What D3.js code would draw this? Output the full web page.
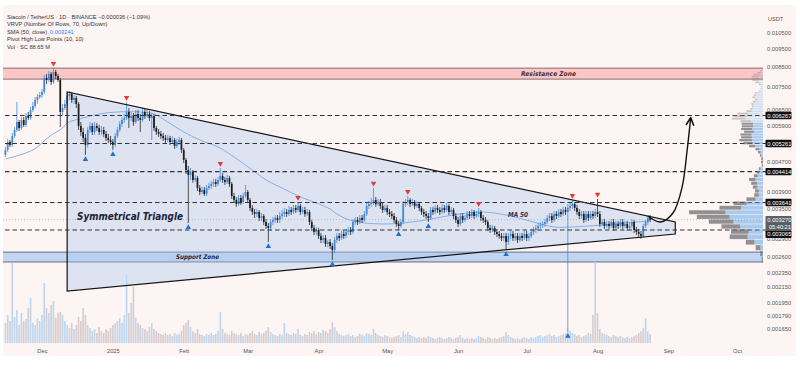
<!DOCTYPE html>
<html><head><meta charset="utf-8">
<script src="https://cdn.jsdelivr.net/npm/d3@7"></script>
<style>
html,body{margin:0;padding:0;background:#fff;}
svg{display:block;font-family:"Liberation Sans","Open Sans",sans-serif;}
</style></head><body>
<svg id="c" width="800" height="381"></svg>
<script>
// ---------- DATA (prices in 1e-6 USDT, volume in millions SC) ----------
const startDate = "2024-11-15";
const firstOpen = 4899;
const close = [
5055,5314,5215,5517,5728,6021,5800,6097,5910,6252,
6174,6490,6654,6909,7040,7128,7264,7927,7829,8128,
7732,8230,8027,7829,6410,6572,6738,7084,7174,6909,
6996,6738,5873,5657,5449,5215,5728,5873,5657,5873,
5800,5657,5728,5587,5449,5381,5314,5215,5517,5728,
5947,6097,6174,6410,6174,6252,6021,6330,6174,6097,
6410,6252,6330,6174,6252,5800,5657,5587,5517,5449,
5381,5449,5314,5381,5183,5314,5381,5055,4749,4461,
4324,4406,4191,4244,3987,3888,3937,3840,3987,4037,
4088,4139,4088,4191,4297,4191,4139,4244,4088,3792,
3698,3607,3745,3652,3792,3888,3698,3518,3431,3388,
3431,3305,3346,3223,3144,3105,3223,3264,3305,3264,
3346,3388,3431,3388,3474,3431,3518,3474,3562,3431,
3474,3388,3431,3223,3105,3028,3066,2953,2880,2916,
2809,2844,2774,2705,2880,2953,2916,2990,2953,3028,
3066,3028,3223,3264,3223,3305,3264,3388,3562,3607,
3652,3698,3607,3652,3562,3474,3518,3431,3388,3346,
3264,3183,3144,3223,3607,3652,3698,3607,3652,3562,
3607,3518,3431,3388,3346,3305,3474,3431,3518,3474,
3431,3518,3474,3562,3431,3474,3346,3264,3183,3346,
3264,3305,3388,3346,3431,3346,3388,3431,3305,3264,
3223,3105,3066,3105,3028,2990,2953,2916,2953,2844,
2953,2990,2916,2953,2880,2953,2916,2990,2916,2953,
3028,3066,3105,3144,3163,3183,3223,3305,3346,3264,
3388,3346,3431,3388,3474,3431,3518,3562,3607,3518,
3431,3346,3388,3264,3388,3305,3388,3346,3431,3388,
3183,3223,3144,3183,3144,3223,3105,3183,3144,3223,
3144,3183,3105,3144,3223,3066,3028,2990,2953,3144,
3223,3306,3270];
const high = [
5151,5415,5381,5622,5836,6823,6097,6213,6213,6370,
6410,6613,6823,7040,7174,7264,7401,8077,8128,8282,
8230,8439,8334,8128,7927,6738,6909,7219,7309,7264,
7128,7084,6823,6021,5800,5587,5836,6021,5984,6021,
5984,5910,5873,5836,5692,5587,5517,5415,5622,5836,
6059,6213,6330,6823,6572,6410,6370,6490,6490,6330,
6572,6531,6490,6450,6370,6330,5873,5764,5692,5622,
5552,5552,5517,5517,5449,5415,5483,5449,5119,4808,
4574,4517,4461,4324,4297,4062,4012,4012,4062,4114,
4165,4218,4218,4271,4517,4379,4271,4324,4297,4139,
3864,3769,3816,3816,3864,4062,3937,3745,3584,3496,
3496,3474,3409,3388,3284,3203,3284,3325,3367,3367,
3431,3474,3518,3496,3562,3540,3584,3584,3652,3607,
3540,3540,3496,3474,3264,3163,3124,3105,3009,2971,
2971,2880,2898,2826,2934,3009,3009,3047,3047,3085,
3124,3124,3284,3325,3325,3367,3367,3452,3630,3675,
3745,3987,3769,3722,3722,3630,3584,3584,3496,3452,
3409,3325,3243,3284,3675,3722,3792,3745,3722,3698,
3675,3652,3562,3496,3452,3409,3540,3540,3584,3584,
3540,3607,3584,3630,3607,3540,3518,3409,3325,3409,
3409,3367,3452,3452,3496,3474,3452,3518,3474,3367,
3325,3264,3163,3163,3144,3085,3047,3009,3009,3009,
3009,3047,3047,3009,3009,3009,3009,3047,3047,3009,
3085,3124,3163,3203,3223,3243,3284,3367,3409,3409,
3452,3452,3496,3496,3540,3540,3607,3630,3698,3652,
3584,3496,3452,3452,3452,3452,3452,3452,3496,3722,
3452,3284,3284,3243,3243,3284,3284,3243,3243,3284,
3284,3243,3243,3203,3284,3264,3124,3085,3047,3183,
3264,3346,3367];
const low = [
4838,4992,5151,5151,5449,5657,5692,5728,5836,5836,
6097,6097,6410,6572,6738,6952,6996,7174,7636,7732,
7588,7636,7878,7732,5836,6252,6490,6654,6909,6781,
6738,6572,5728,5517,5314,4899,5119,5622,5552,5552,
5692,5552,5552,5483,5348,5281,5215,5055,5151,5449,
5657,5836,5984,6097,5800,6059,5873,5947,6059,5657,
6021,6135,6174,6059,5381,5692,5552,5483,5415,5348,
5281,5314,5215,5248,5087,5119,5215,4961,4661,4351,
3203,4191,4114,4139,3913,3816,3840,3792,3792,3937,
3962,4012,4012,4037,4139,4114,4062,4088,4012,3722,
3630,3540,3562,3584,3607,3745,3630,3452,3367,3305,
3325,3243,3243,3163,3085,2844,3047,3163,3203,3203,
3203,3284,3325,3325,3346,3367,3388,3409,3431,3367,
3388,3325,3346,3163,3047,2971,2971,2898,2826,2826,
2757,2757,2722,2541,2655,2826,2862,2880,2898,2916,
2971,2971,2990,3163,3163,3183,3203,3223,3346,3496,
3540,3584,3540,3562,3496,3409,3431,3367,3325,3284,
3203,3124,3066,3105,3183,3540,3584,3540,3562,3496,
3518,3452,3367,3325,3284,3223,3264,3367,3388,3409,
3367,3388,3409,3431,3367,3388,3284,3203,3124,3144,
3203,3223,3264,3284,3305,3284,3305,3325,3243,3203,
3163,3047,3009,3028,2971,2934,2898,2862,2862,2705,
2791,2898,2862,2862,2826,2844,2862,2880,2862,2862,
2916,2971,3009,3047,3085,3105,3124,3183,3243,3203,
3223,3284,3305,3325,3346,3367,1625,3452,3496,3452,
3367,3284,3284,3203,3223,3243,3264,3284,3305,3325,
3124,3144,3085,3105,3085,3105,3047,3066,3085,3105,
3085,3105,3047,3066,3105,3009,2971,2934,2898,2916,
3105,3163,3223];
const volume = [
200,280,220,800,260,330,180,300,220,240,
350,450,200,180,250,220,280,600,350,300,
380,420,250,300,310,280,220,180,150,200,
140,180,260,220,350,280,180,150,120,140,
100,160,120,100,140,120,150,180,200,220,
250,200,280,680,300,400,560,250,200,180,
150,140,120,160,200,140,120,100,90,80,
100,80,90,70,100,80,90,120,180,200,
230,160,120,100,140,90,80,70,90,80,
100,80,90,120,310,140,100,90,80,120,
100,90,80,100,70,90,80,100,120,90,
80,110,90,100,120,160,110,90,80,70,
90,80,200,100,90,80,100,90,140,80,
70,90,80,110,100,120,90,110,100,130,
120,100,140,210,160,120,90,80,70,80,
90,70,80,60,70,90,80,70,100,90,
80,140,100,80,70,60,80,70,60,50,
60,70,80,60,120,90,110,80,70,60,
50,60,50,60,50,70,60,50,40,50,
60,50,40,50,60,50,40,50,60,80,
50,40,50,40,50,40,50,70,60,50,
40,60,50,40,50,40,50,60,70,110,
80,60,50,40,50,40,50,60,50,40,
60,50,60,70,80,60,70,80,90,70,
80,60,70,80,90,100,140,120,100,90,
70,80,60,70,80,100,90,280,810,300,
140,100,90,80,70,60,80,70,60,70,
60,50,60,50,60,70,80,100,120,150,
250,120,88.65];
const pivotHighBars = [21,53,94,128,161,176,207,248,259];
const pivotLowBars  = [35,47,80,115,143,172,185,219,246];
const smaBars = [0,12,19,25,27,34,41,49,59,65,71,78,85,93,100,108,114,121,129,136,142,145,152,167,181,196,208,219,231,240,248,261,276,282];
const smaValues = [4778,5055,5483,5800,5984,6174,6330,6410,6410,6330,6021,5657,5381,5151,4838,4461,4191,3987,3769,3630,3496,3388,3243,3183,3243,3367,3431,3367,3223,3124,3124,3163,3223,3241];
const levelPrices = [6267,5261,4414,3641,3065];
const resistanceZone = [7870,8430];
const supportZone = [2510,2670];
const currentPrice = 3270;
const triangleBars = [27,27,293,293];
const trianglePrices = [7264,2094,2990,3223];
const arrowBars = [281,286.5,292,296,298.2,299.7];
const arrowPrices = [3346,3223,3409,4012,5055,6150];
const priceTicks = [0.0105,0.0095,0.0085,0.0075,0.0065,0.0059,0.0047,0.0039,0.0035,0.0029,0.0026,0.00235,0.00215,0.00195,0.00179,0.00165];
const monthTicks = ["2024-12-01","2025-01-01","2025-02-01","2025-03-01","2025-04-01","2025-05-01","2025-06-01","2025-07-01","2025-08-01","2025-09-01","2025-10-01"];
const legendLines = ["Siacoin / TetherUS · 1D · BINANCE  −0.000036 (−1.09%)","VRVP (Number Of Rows, 70, Up/Down)","SMA (50, close)","Pivot High Low Points (10, 10)","Vol · SC  88.65 M"];
const smaLegendValue = "0.003241";
const vrvpRows = 70;

// ---------- SETUP ----------
const P = 1e-6, DAY = 864e5;
const t0 = new Date(startDate + "T00:00:00Z").getTime();
const dayDate = d => new Date(t0 + d * DAY);
const open = close.map((c, i) => i ? close[i - 1] : firstOpen);
const bars = close.map((c, i) => ({i, d: dayDate(i), o: open[i]*P, c: c*P, h: high[i]*P, l: low[i]*P, v: volume[i], up: c >= open[i]}));

const svg = d3.select("#c");
const plotL = 3, plotR = 763, plotT = 5, plotB = 356;
const x = d3.scaleUtc().domain([new Date("2024-12-01T00:00:00Z"), new Date("2025-10-01T00:00:00Z")]).range([42, 737]);
const y = d3.scaleLog().domain([0.0125, 0.0014]).range([5.1, 355.4]);
const yv = d3.scaleLinear().domain([0, 1000]).range([343, 243]);
const X = d => x(dayDate(d));

svg.append("rect").attr("x", plotL).attr("y", plotT).attr("width", 793).attr("height", plotB - plotT).attr("rx", 3).attr("fill", "#fdf5f3");
svg.append("defs").append("clipPath").attr("id", "pc").append("rect").attr("x", plotL).attr("y", plotT).attr("width", plotR - plotL).attr("height", 343 - plotT);
svg.select("defs").append("marker").attr("id", "ah").attr("viewBox", "0 0 10 10").attr("refX", 8).attr("refY", 5)
  .attr("markerWidth", 7).attr("markerHeight", 7).attr("orient", "auto")
  .append("path").attr("d", "M1,1 L9,5 L1,9").attr("fill", "none").attr("stroke", "#111").attr("stroke-width", 1.6);

const g = svg.append("g").attr("clip-path", "url(#pc)");

// zones
function zone(z, fill, stroke) {
  g.append("rect").attr("x", plotL).attr("width", plotR - plotL).attr("y", y(z[1]*P)).attr("height", y(z[0]*P) - y(z[1]*P)).attr("fill", fill);
  [z[0], z[1]].forEach(p => g.append("line").attr("x1", plotL).attr("x2", plotR).attr("y1", y(p*P)).attr("y2", y(p*P)).attr("stroke", stroke).attr("stroke-width", 0.9));
}
zone(resistanceZone, "#fbc6c6", "#7d6262");
zone(supportZone, "#c2d6f1", "#55607a");

// triangle fill
const triPts = triangleBars.map((b, k) => [X(b), y(trianglePrices[k]*P)]);
g.append("path").attr("d", d3.line()(triPts) + "Z").attr("fill", "rgba(172,196,240,0.38)").attr("stroke", "none");

// volume bars
g.selectAll(".vol").data(bars).join("rect")
  .attr("x", d => x(d.d) - 0.8).attr("width", 1.6)
  .attr("y", d => yv(d.v)).attr("height", d => yv(0) - yv(d.v))
  .attr("fill", d => d.up ? "#bcd5f1" : "#d9caca");

// current price dotted line
g.append("line").attr("x1", plotL).attr("x2", plotR).attr("y1", y(currentPrice*P)).attr("y2", y(currentPrice*P))
  .attr("stroke", "#b0b0b0").attr("stroke-width", 0.8).attr("stroke-dasharray", "1,2");

// dashed levels
levelPrices.forEach(p => svg.append("line").attr("x1", plotL + 2).attr("x2", 766).attr("y1", y(p*P)).attr("y2", y(p*P))
  .attr("stroke", "#333").attr("stroke-width", 1.1).attr("stroke-dasharray", "4.5,3"));

// VRVP
const pMin = d3.min(bars, d => d.l), pMax = d3.max(bars, d => d.h), step = (pMax - pMin) / vrvpRows;
const upV = new Array(vrvpRows).fill(0), dnV = new Array(vrvpRows).fill(0);
bars.forEach(b => {
  const span = Math.max(b.h - b.l, 1e-12);
  for (let r = 0; r < vrvpRows; r++) {
    const a = pMin + r * step, e = a + step, ov = Math.min(e, b.h) - Math.max(a, b.l);
    if (ov > 0) { const s = b.v * ov / span; if (b.up) upV[r] += s; else dnV[r] += s; }
  }
});
const tot = upV.map((u, r) => u + dnV[r]);
const sumV = d3.sum(tot); let poc = d3.maxIndex(tot), vaLo = poc, vaHi = poc, acc = tot[poc];
while (acc < 0.7 * sumV) {
  const ab = vaHi + 1 < vrvpRows ? tot[vaHi + 1] : -1, be = vaLo - 1 >= 0 ? tot[vaLo - 1] : -1;
  if (ab >= be) { vaHi++; acc += ab; } else { vaLo--; acc += be; }
}
const wv = d3.scaleLinear().domain([0, d3.max(tot)]).range([0, 74]);
const vp = svg.append("g");
d3.range(vrvpRows).forEach(r => {
  const yt = y((pMin + (r + 1) * step)), yb = y(pMin + r * step);
  const hh = Math.max(yb - yt - 0.6, 0.5), inVA = r >= vaLo && r <= vaHi;
  const wu = wv(upV[r]), wd = wv(dnV[r]);
  vp.append("rect").attr("x", plotR - wu).attr("width", wu).attr("y", yt + 0.3).attr("height", hh)
    .attr("fill", inVA ? "rgba(66,150,235,0.45)" : "rgba(66,150,235,0.22)");
  vp.append("rect").attr("x", plotR - wu - wd).attr("width", wd).attr("y", yt + 0.3).attr("height", hh)
    .attr("fill", inVA ? "rgba(105,105,110,0.72)" : "rgba(140,130,130,0.45)");
});

// SMA
g.append("path").datum(smaBars.map((b, k) => [X(b), y(smaValues[k]*P)]))
  .attr("d", d3.line().curve(d3.curveCatmullRom)).attr("fill", "none").attr("stroke", "#86b1e2").attr("stroke-width", 1);

// candles
const cg = g.append("g");
cg.selectAll(".w").data(bars).join("line")
  .attr("x1", d => x(d.d)).attr("x2", d => x(d.d)).attr("y1", d => y(d.h)).attr("y2", d => y(d.l))
  .attr("stroke", d => d.up ? "#3f86d8" : "#1b1b1b").attr("stroke-width", 0.75);
cg.selectAll(".b").data(bars).join("rect")
  .attr("x", d => x(d.d) - 0.85).attr("width", 1.7)
  .attr("y", d => y(Math.max(d.o, d.c))).attr("height", d => Math.max(Math.abs(y(d.o) - y(d.c)), 0.7))
  .attr("fill", d => d.up ? "#3f86d8" : "#1b1b1b");

// triangle outline
g.append("path").attr("d", d3.line()(triPts) + "Z").attr("fill", "none").attr("stroke", "#151515").attr("stroke-width", 1.2);

// arrow
svg.append("path").datum(arrowBars.map((b, k) => [X(b), y(arrowPrices[k]*P)]))
  .attr("d", d3.line().curve(d3.curveCatmullRom)).attr("fill", "none").attr("stroke", "#111").attr("stroke-width", 1.4)
  .attr("marker-end", "url(#ah)");

// pivots
const tri = d3.symbol(d3.symbolTriangle, 13);
svg.selectAll(".ph").data(pivotHighBars).join("path").attr("d", tri)
  .attr("transform", i => `translate(${X(i)},${y(bars[i].h) - 4.5}) rotate(180)`).attr("fill", "#e53935");
svg.selectAll(".pl").data(pivotLowBars).join("path").attr("d", tri)
  .attr("transform", i => `translate(${X(i)},${y(bars[i].l) + 4.5})`).attr("fill", "#1f6fd6");

// annotation texts
const lab = (t, xx, yy, size, len, col) => svg.append("text").attr("x", xx).attr("y", yy).text(t)
  .attr("font-size", size).attr("font-weight", "bold").attr("font-style", "italic").attr("fill", col)
  .attr("textLength", len).attr("lengthAdjust", "spacingAndGlyphs").attr("font-family", "'DejaVu Sans',sans-serif");
lab("Resistance Zone", 521, y(Math.sqrt(resistanceZone[0]*resistanceZone[1])*P) + 2.3, 6.5, 55, "#4a3030");
lab("Support Zone", 176, y(Math.sqrt(supportZone[0]*supportZone[1])*P) + 2.3, 6.3, 43, "#1f2840");
lab("Symmetrical Triangle", 77, 219.5, 9.6, 106, "#1c2238");
lab("MA 50", 508, 216.5, 6.8, 20, "#2a2f45");

// time axis
const xa = svg.append("g").attr("transform", "translate(0,346)")
  .call(d3.axisBottom(x).tickValues(monthTicks.map(s => new Date(s + "T00:00:00Z"))).tickSize(0)
    .tickFormat(d => d.getUTCMonth() === 0 ? d3.utcFormat("%Y")(d) : d3.utcFormat("%b")(d)));
xa.select(".domain").remove();
xa.selectAll("text").attr("font-size", 5.8).attr("fill", "#555").attr("font-family", "'Liberation Sans',sans-serif");

// price axis
const ya = svg.append("g").attr("transform", "translate(765,0)")
  .call(d3.axisRight(y).tickValues(priceTicks).tickSize(0).tickPadding(2).tickFormat(d3.format(".6f")));
ya.select(".domain").remove();
ya.selectAll("text").attr("font-size", 5.8).attr("fill", "#555").attr("font-family", "'Liberation Sans',sans-serif");
svg.append("text").attr("x", 768).attr("y", 20.5).text("USDT").attr("font-size", 5.6).attr("fill", "#555");

function priceBox(p, yy, fill) {
  svg.append("rect").attr("x", 765.5).attr("y", yy - 3.7).attr("width", 26).attr("height", 7.4).attr("fill", fill).attr("rx", 0.8);
  svg.append("text").attr("x", 767.3).attr("y", yy + 2.1).text(d3.format(".6f")(p*P)).attr("font-size", 5.8).attr("fill", "#fff");
}
svg.append("rect").attr("x", 765.5).attr("y", y(currentPrice*P) - 3.7).attr("width", 26).attr("height", 14.5).attr("fill", "#5b5e66").attr("rx", 0.8);
svg.append("text").attr("x", 767.3).attr("y", y(currentPrice*P) + 2.1).text(d3.format(".6f")(currentPrice*P)).attr("font-size", 5.8).attr("fill", "#fff");
svg.append("text").attr("x", 769).attr("y", y(currentPrice*P) + 9).text("05:40:21").attr("font-size", 5.6).attr("fill", "#fff");
levelPrices.forEach(p => {
  let yy = y(p*P);
  const cy = y(currentPrice*P);
  if (Math.abs(yy - cy) < 11.5 && yy > cy) yy = cy + 14.6;
  priceBox(p, yy, "#111");
});

// legend
const lg = svg.append("g").attr("font-size", 5.7).attr("fill", "#333");
legendLines.forEach((t, k) => lg.append("text").attr("x", 7).attr("y", 19 + k * 7.4).text(t));
lg.append("text").attr("x", 50).attr("y", 19 + 2 * 7.4).text(smaLegendValue).attr("fill", "#2f80ed");
</script></body></html>
